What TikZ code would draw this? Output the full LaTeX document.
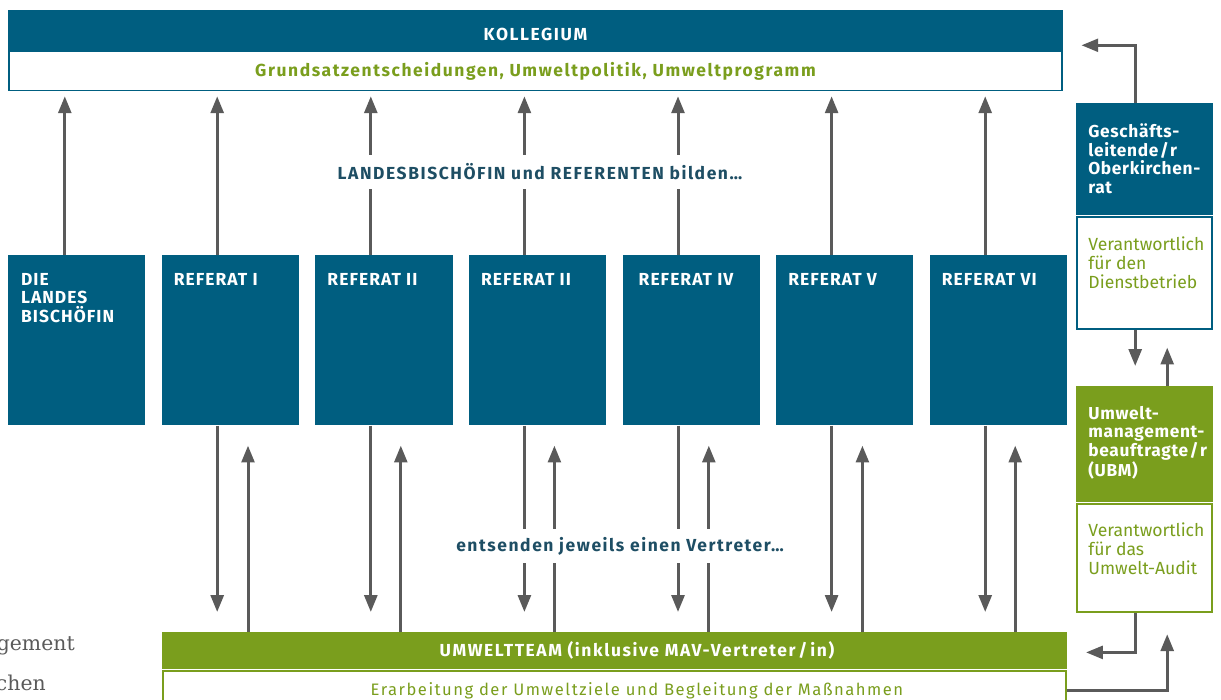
\documentclass[tikz,border=0pt]{standalone}
\usepackage{fontspec}
\setmainfont{Fira Sans}
\newfontfamily\spaced{Fira Sans}[LetterSpace=9]
\newfontfamily\boxfont{Fira Sans}[LetterSpace=6]
\newfontfamily\sidefont{Fira Sans}[LetterSpace=4]
\newfontfamily\pageserif{DejaVu Serif}
\usetikzlibrary{positioning, arrows.meta}
\definecolor{kblue}{RGB}{0,94,128}
\definecolor{kgreen}{RGB}{122,158,29}
\definecolor{kgrey}{RGB}{90,90,90}
\definecolor{kteal}{RGB}{30,78,100}
\tikzset{refbox/.style = {fill=kblue, minimum width=3.425cm, minimum height=4.25cm, inner sep=0pt}}
\tikzset{reftext/.style = {text=white, align=left, inner sep=0pt, font=\boxfont\bfseries\fontsize{12.4}{13.1}\selectfont}}
\tikzset{sidetext/.style = {align=left, inner sep=0pt, font=\fontsize{12.5}{13.5}\selectfont}}
\tikzset{sidehead/.style = {text=white, align=left, inner sep=0pt, font=\sidefont\bfseries\fontsize{12.3}{13.1}\selectfont}}
\tikzset{midlabel/.style = {fill=white, text=kteal, inner xsep=4pt, minimum height=0.85cm, font=\spaced\bfseries\fontsize{12.4}{14}\selectfont}}
\tikzset{arr/.style = {->, draw=kgrey, line width=0.075cm}}

\begin{document}
\begin{tikzpicture}[x=0.025cm, y=-0.025cm, >={Triangle[width=0.32cm, length=0.42cm]}, node distance=0.4cm]
  \useasboundingbox (0,0) rectangle (1221,699);

  % Kollegium
  \node [fill=kblue, minimum width=26.375cm, minimum height=1cm, text=white, font=\spaced\bfseries\fontsize{12.4}{14}\selectfont] (kolltop) at (535.5,30) {\raisebox{-7.5pt}[0pt][0pt]{KOLLEGIUM}};
  \node [fill=white, draw=kblue, line width=1.4pt, minimum width=26.3cm, minimum height=0.98cm, below=0pt of kolltop, text=kgreen, font=\spaced\bfseries\fontsize{12.4}{14}\selectfont] (koll) {Grundsatzentscheidungen, Umweltpolitik, Umweltprogramm};

  % Referate
  \node [refbox, anchor=north west] (bis) at (8,255) {};
  \node [refbox, right=of bis] (r1) {};
  \node [refbox, right=of r1] (r2) {};
  \node [refbox, right=of r2] (r3) {};
  \node [refbox, right=of r3] (r4) {};
  \node [refbox, right=of r4] (r5) {};
  \node [refbox, right=of r5] (r6) {};

  \node [reftext, below right=0.45cm and 0.32cm of bis.north west] (bistext) {DIE\\LANDES\\BISCHÖFIN};
  \node [reftext, below right=0.45cm and 0.3cm of r1.north west] (r1text) {REFERAT I};
  \node [reftext, below right=0.45cm and 0.3cm of r2.north west] (r2text) {REFERAT II};
  \node [reftext, below right=0.45cm and 0.3cm of r3.north west] (r3text) {REFERAT II};
  \node [reftext, below right=0.45cm and 0.4cm of r4.north west] (r4text) {REFERAT IV};
  \node [reftext, below right=0.45cm and 0.3cm of r5.north west] (r5text) {REFERAT V};
  \node [reftext, below right=0.45cm and 0.3cm of r6.north west] (r6text) {REFERAT VI};

  % Umweltteam
  \node [fill=kgreen, minimum width=22.6cm, minimum height=0.925cm, anchor=north west, text=white, font=\spaced\bfseries\fontsize{12.4}{14}\selectfont] (team) at (162,632) {\hspace*{32pt}UMWELTTEAM (inklusive MAV-Vertreter\,/\,in)};
  \node [fill=white, draw=kgreen, line width=1.4pt, minimum width=22.55cm, minimum height=1cm, below=0pt of team, text=kgreen, font=\spaced\fontsize{11.8}{13}\selectfont] (teamtask) {\hspace*{32pt}Erarbeitung der Umweltziele und Begleitung der Maßnahmen};

  % rechte Spalte
  \node [fill=kblue, minimum width=3.425cm, minimum height=2.8cm, anchor=north west] (gesch) at (1076,103) {};
  \node [fill=white, draw=kblue, line width=1.4pt, minimum width=3.38cm, minimum height=2.8cm, below=0pt of gesch] (dienst) {};
  \node [fill=kgreen, minimum width=3.425cm, minimum height=2.9cm, anchor=north west] (ubm) at (1076,386) {};
  \node [fill=white, draw=kgreen, line width=1.4pt, minimum width=3.38cm, minimum height=2.72cm, below=0pt of ubm] (audit) {};

  \node [sidehead, below right=0.52cm and 0.3cm of gesch.north west] (geschtext) {Geschäfts-\\leitende\kern1pt/\kern1pt r\\Oberkirchen-\\rat};
  \node [sidetext, text=kgreen, below right=0.52cm and 0.3cm of dienst.north west] (diensttext) {Verantwortlich\\für den\\Dienstbetrieb};
  \node [sidehead, below right=0.5cm and 0.3cm of ubm.north west] (ubmtext) {Umwelt-\\management-\\beauftragte\kern1pt/\kern1pt r\\(UBM)};
  \node [sidetext, text=kgreen, below right=0.5cm and 0.3cm of audit.north west] (audittext) {Verantwortlich\\für das\\Umwelt-Audit};

  % Pfeile nach oben zum Kollegium
  \draw [arr, shorten >=0.12cm] ([xshift=-0.3cm]bis.north) -- ([xshift=-0.3cm]bis.north |- koll.south);
  \draw [arr, shorten >=0.12cm] ([xshift=-0.33cm]r1.north) -- ([xshift=-0.33cm]r1.north |- koll.south);
  \draw [arr, shorten >=0.12cm] ([xshift=-0.33cm]r2.north) -- ([xshift=-0.33cm]r2.north |- koll.south);
  \draw [arr, shorten >=0.12cm] ([xshift=-0.33cm]r3.north) -- ([xshift=-0.33cm]r3.north |- koll.south);
  \draw [arr, shorten >=0.12cm] ([xshift=-0.33cm]r4.north) -- ([xshift=-0.33cm]r4.north |- koll.south);
  \draw [arr, shorten >=0.12cm] ([xshift=-0.33cm]r5.north) -- ([xshift=-0.33cm]r5.north |- koll.south);
  \draw [arr, shorten >=0.12cm] ([xshift=-0.33cm]r6.north) -- ([xshift=-0.33cm]r6.north |- koll.south);

  % Pfeile zwischen Referaten und Umweltteam
  \draw [arr, shorten >=0.5cm] ([xshift=-0.33cm]r1.south) -- ([xshift=-0.33cm]r1.south |- team.north);
  \draw [arr, shorten >=0.5cm] ([xshift=0.44cm]r1.south |- team.north) -- ([xshift=0.44cm]r1.south);
  \draw [arr, shorten >=0.5cm] ([xshift=-0.33cm]r2.south) -- ([xshift=-0.33cm]r2.south |- team.north);
  \draw [arr, shorten >=0.5cm] ([xshift=0.42cm]r2.south |- team.north) -- ([xshift=0.42cm]r2.south);
  \draw [arr, shorten >=0.5cm] ([xshift=-0.33cm]r3.south) -- ([xshift=-0.33cm]r3.south |- team.north);
  \draw [arr, shorten >=0.5cm] ([xshift=0.42cm]r3.south |- team.north) -- ([xshift=0.42cm]r3.south);
  \draw [arr, shorten >=0.5cm] ([xshift=-0.33cm]r4.south) -- ([xshift=-0.33cm]r4.south |- team.north);
  \draw [arr, shorten >=0.5cm] ([xshift=0.44cm]r4.south |- team.north) -- ([xshift=0.44cm]r4.south);
  \draw [arr, shorten >=0.5cm] ([xshift=-0.33cm]r5.south) -- ([xshift=-0.33cm]r5.south |- team.north);
  \draw [arr, shorten >=0.5cm] ([xshift=0.44cm]r5.south |- team.north) -- ([xshift=0.44cm]r5.south);
  \draw [arr, shorten >=0.5cm] ([xshift=-0.33cm]r6.south) -- ([xshift=-0.33cm]r6.south |- team.north);
  \draw [arr, shorten >=0.5cm] ([xshift=0.42cm]r6.south |- team.north) -- ([xshift=0.42cm]r6.south);

  % Pfeile rechte Spalte
  \draw [arr] ([xshift=-0.24cm]gesch.north) |- ([xshift=0.45cm, yshift=0.125cm]kolltop.south east);
  \draw [arr, shorten >=0.5cm] ([xshift=-0.24cm]dienst.south) -- ([xshift=-0.24cm]ubm.north);
  \draw [arr, shorten >=0.45cm] ([xshift=0.56cm]ubm.north) -- ([xshift=0.56cm]dienst.south);
  \draw [arr] ([xshift=-0.24cm]audit.south) |- ([xshift=0.48cm, yshift=-0.04cm]team.east);
  \draw [arr, shorten >=0.52cm] (teamtask.east) -| ([xshift=0.56cm]audit.south);

  % Beschriftungen
  \node [midlabel] (bilden) at (540,172) {LANDESBISCHÖFIN und REFERENTEN bilden…};
  \node [midlabel] (entsenden) at (620,546) {entsenden jeweils einen Vertreter…};

  % Reste des Fliesstexts
  \node [anchor=base east, inner sep=0pt, text=kgrey, font=\pageserif\fontsize{14.5}{16}\selectfont] (frag1) at (75,650) {gement};
  \node [anchor=base east, inner sep=0pt, text=kgrey, font=\pageserif\fontsize{14.5}{16}\selectfont] (frag2) at (46,690) {chen};
\end{tikzpicture}
\end{document}
